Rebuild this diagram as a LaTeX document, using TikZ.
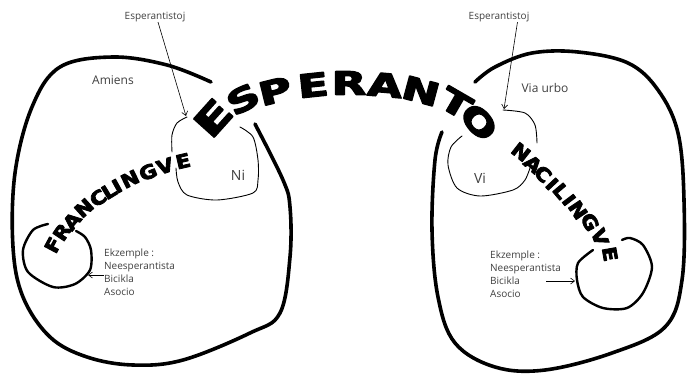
\documentclass[tikz,border=0pt]{standalone}
\usepackage{fontspec}
\usepackage{graphicx}
\setmainfont{Open Sans}
\newfontfamily\bigf{DejaVu Sans Bold}
\newcommand{\heavyA}[1]{\special{pdf:code q 2 Tr 1.3 w 1 j}\scalebox{1.4}[1]{#1}\special{pdf:code Q}}
\newcommand{\heavyB}[1]{\special{pdf:code q 2 Tr 0.8 w 1 j}\scalebox{1.12}[1]{#1}\special{pdf:code Q}}
\usetikzlibrary{arrows.meta}
\begin{document}
\begin{tikzpicture}[x=1pt,y=-1pt,
  blob/.style={line width=3.6pt, line cap=round, line join=round},
  innerblob/.style={line width=0.9pt, line cap=round},
  ring/.style={line width=2.4pt, line cap=round},
  pointer/.style={line width=0.6pt, -{Straight Barb[length=4pt,width=6pt]}},
  lbl/.style={font=\fontsize{10}{13}\selectfont, text=black!75, inner sep=0pt},
  biglbl/.style={font=\fontsize{12}{14}\selectfont, text=black!75, inner sep=0pt},
  hugelbl/.style={font=\fontsize{14}{16}\selectfont, text=black!75, inner sep=0pt},
  big/.style={font=\bigf\fontsize{32}{32}\selectfont, inner sep=0pt},
  bigger/.style={font=\bigf\fontsize{38}{38}\selectfont, inner sep=0pt},
  mid/.style={font=\bigf\fontsize{19}{19}\selectfont, inner sep=0pt},
]
\useasboundingbox (0,0) rectangle (689,373);
\fill[white] (0,0) rectangle (689,373);

% big outlines
\draw[blob] plot[smooth, tension=0.6] coordinates {(211,82) (167,65) (113,57) (60,67) (32,107) (15,173) (13,247) (23,297) (50,337) (87,357) (133,365) (183,360) (250,333) (280,313) (290,257) (290,207) (283,180) (255,124)};
\draw[blob] plot[smooth, tension=0.6] coordinates {(442,132) (435,160) (432,230) (438,297) (455,343) (495,367) (545,370) (612,353) (665,327) (682,280) (684,200) (678,133) (658,90) (628,63) (578,52) (532,53) (495,67) (475,82)};

% Ni blob
\draw[innerblob] plot[smooth] coordinates {(240,127) (253,137) (258,160) (258,180) (253,193) (217,200) (187,195) (178,182) (176,168)};
\draw[innerblob] plot[smooth] coordinates {(172,152) (172,135) (177,123) (187,117)};
% Vi blob
\draw[innerblob] plot[smooth] coordinates {(503,110) (525,113) (535,125) (537,143)};
\draw[innerblob] plot[smooth] coordinates {(531,165) (525,180) (513,190) (480,196) (457,188) (448,165) (451,147) (462,136)};

% small rings
\draw[ring] plot[smooth] coordinates {(48,224) (33,230) (23,250) (28,272) (53,287) (75,284) (90,270) (91,250) (85,237) (76,231)};
\draw[ring] plot[smooth] coordinates {(593,250) (578,263) (577,280) (583,297) (603,308) (627,308) (643,293) (652,267) (643,245) (630,238) (622,240)};

% labels
\node[lbl] (esp1) at (155,17) {Esperantistoj};
\node[lbl] (esp2) at (499,17) {Esperantistoj};
\coordinate (t1) at (186,116);
\coordinate (t2) at (504,109);
\draw[pointer] ([xshift=3pt]esp1.south) -- (t1);
\draw[pointer] ([xshift=-12pt]esp2.south east) -- (t2);

\node[biglbl] (amiens) at (113,80) {Amiens};
\node[biglbl] (viaurbo) at (545,88) {Via urbo};
\node[hugelbl] (ni) at (238,175) {Ni};
\node[hugelbl] (vi) at (480,178) {Vi};

\node[lbl, align=left, anchor=north west] (ex1) at (104,249) {Ekzemple :\\Neesperantista\\Bicikla\\Asocio};
\node[lbl, align=left, anchor=north west] (ex2) at (490,251) {Ekzemple :\\Neesperantista\\Bicikla\\Asocio};
\coordinate (a1s) at (104,275);
\coordinate (a1e) at (88,275);
\coordinate (a2s) at (546,281);
\coordinate (a2e) at (575,281);
\draw[pointer] (a1s) -- (a1e);
\draw[pointer] (a2s) -- (a2e);

% ESPERANTO
\node[bigger, rotate=48] (l1) at (213,118) {\heavyA{E}};
\node[big, rotate=28] (l2) at (243,99) {\heavyA{S}};
\node[big, rotate=14] (l3) at (275,91) {\heavyA{P}};
\node[big, rotate=6] (l4) at (313,85) {\heavyA{E}};
\node[big, rotate=0] (l5) at (349,83) {\heavyA{R}};
\node[big, rotate=-5] (l6) at (385,85) {\heavyA{A}};
\node[big, rotate=-15] (l7) at (421,91) {\heavyA{N}};
\node[big, rotate=-30] (l8) at (456,103) {\heavyA{T}};
\node[big, rotate=-48] (l9) at (479,122) {\heavyA{O}};

% FRANCLINGVE
\node[mid, rotate=62] (f1) at (53,245) {\heavyB{F}};
\node[mid, rotate=56] (f2) at (62,232) {\heavyB{R}};
\node[mid, rotate=50] (f3) at (72,221) {\heavyB{A}};
\node[mid, rotate=42] (f4) at (84,208) {\heavyB{N}};
\node[mid, rotate=35] (f5) at (98,198) {\heavyB{C}};
\node[mid, rotate=31] (f6) at (109,191) {\heavyB{L}};
\node[mid, rotate=29] (f7) at (117,186) {\heavyB{I}};
\node[mid, rotate=26] (f8) at (130,179) {\heavyB{N}};
\node[mid, rotate=22] (f9) at (148,172) {\heavyB{G}};
\node[mid, rotate=18] (f10) at (165,166) {\heavyB{V}};
\node[mid, rotate=13] (f11) at (183,161) {\heavyB{E}};

% NACILINGVE
\node[mid, rotate=-38] (n1) at (521,152) {\heavyB{N}};
\node[mid, rotate=-41] (n2) at (533,164) {\heavyB{A}};
\node[mid, rotate=-44] (n3) at (543,174) {\heavyB{C}};
\node[mid, rotate=-47] (n4) at (552,184) {\heavyB{I}};
\node[mid, rotate=-50] (n5) at (561,191) {\heavyB{L}};
\node[mid, rotate=-53] (n6) at (569,200) {\heavyB{I}};
\node[mid, rotate=-56] (n7) at (578,210) {\heavyB{N}};
\node[mid, rotate=-62] (n8) at (590,222) {\heavyB{G}};
\node[mid, rotate=-70] (n9) at (600,237) {\heavyB{V}};
\node[mid, rotate=-80] (n10) at (610,254) {\heavyB{E}};
\end{tikzpicture}
\end{document}
